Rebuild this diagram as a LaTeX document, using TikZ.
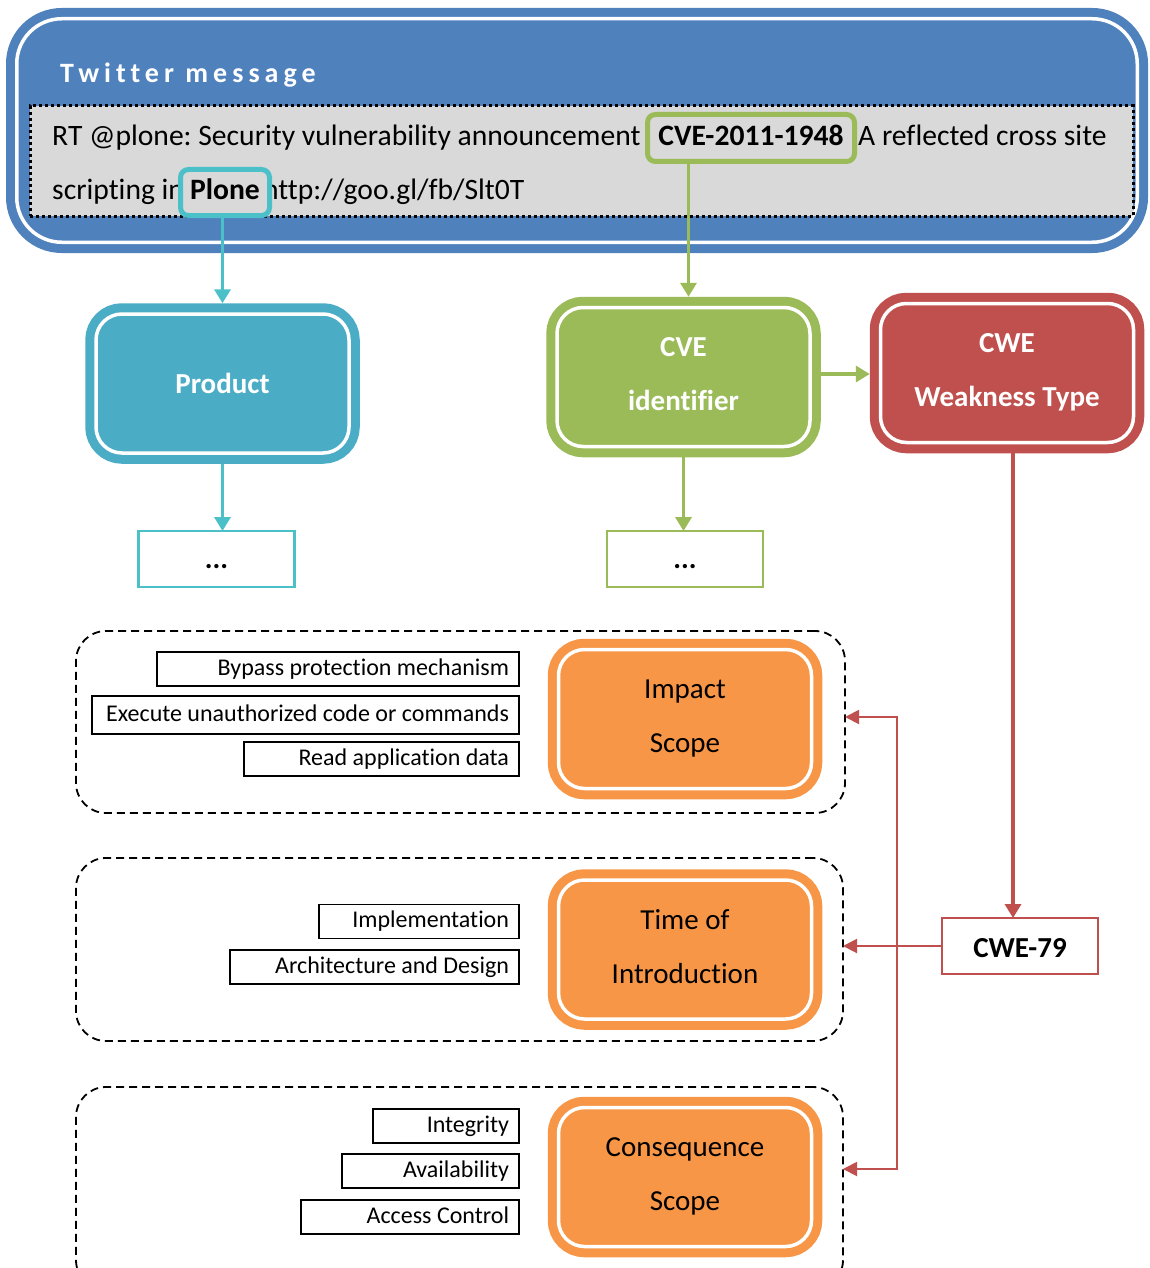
\documentclass[tikz,border=0pt]{standalone}
\usepackage{fontspec}
\setmainfont{Carlito}[Ligatures=CommonOff]
\usetikzlibrary{arrows.meta}
\definecolor{twblue}{HTML}{4F81BD}
\definecolor{msggray}{HTML}{D9D9D9}
\definecolor{tealbox}{HTML}{4BACC6}
\definecolor{tealline}{HTML}{4BC0C8}
\definecolor{cvegreen}{HTML}{9BBB59}
\definecolor{cwered}{HTML}{C0504D}
\definecolor{orng}{HTML}{F79646}
\newcommand\boxfont{\fontsize{29}{54}\selectfont}
\newcommand\lblfont{\fontsize{24}{29}\selectfont}
\newcommand\twfont{\fontsize{29.6}{36}\selectfont}
\newcommand\mystrut{\rule[-9pt]{0pt}{31pt}}
\newcommand\rtext[2]{\makebox[#1][r]{#2}}
\frenchspacing
\begin{document}
\begin{tikzpicture}[x=1pt,y=-1pt,
  dbl/.style={draw=#1, fill=#1, double=white, double distance=3.5pt, line width=9pt,
    rounded corners=26pt, inner sep=0pt, outer sep=10.75pt, minimum width=253pt,
    minimum height=139pt, align=center, text=white, font=\bfseries\boxfont},
  hl/.style={draw=#1, line width=5pt, fill=msggray, rounded corners=8pt, inner sep=0pt,
    outer sep=2.5pt, font=\bfseries\twfont},
  txt/.style={anchor=base west, inner sep=0pt, font=\twfont},
  dotbox/.style={draw=#1, line width=2.5pt, fill=white, minimum width=156pt, minimum height=56pt,
    inner sep=0pt, outer sep=0pt, font=\bfseries\boxfont, text height=20pt, text depth=2pt},
  lbl/.style={draw=black, line width=1.6pt, font=\lblfont, inner xsep=10pt, inner ysep=0pt,
    anchor=east, text height=17pt, text depth=5pt, outer sep=0pt, minimum height=34pt},
  grp/.style={draw=black, line width=1.8pt, dash pattern=on 8pt off 5pt, rounded corners=30pt,
    inner sep=0pt, outer sep=0pt},
  tealconn/.style={draw=tealline, line width=3.5pt, -{Triangle[length=14pt,width=16pt]}},
  greenconn/.style={draw=cvegreen, line width=3.5pt, -{Triangle[length=14pt,width=16pt]}},
  redconn/.style={draw=cwered, line width=3.5pt, -{Triangle[length=14pt,width=16pt]}},
  redthin/.style={draw=cwered, line width=2pt},
]
\useasboundingbox (0,0) rectangle (1150,1268);
\clip (0,0) rectangle (1150,1268);

% Twitter message panel
\node[draw=twblue, fill=twblue, double=white, double distance=3.5pt, line width=9pt,
  rounded corners=45pt, minimum width=1120.5pt, minimum height=223.5pt, inner sep=0pt]
  (tw) at (577,130.5) {};
\node[anchor=base west, inner sep=0pt, text=white,
  font=\bfseries\fontsize{28}{34}\selectfont\addfontfeature{LetterSpace=18}]
  (title) at (60,83) {Twitter message};
\node[draw=black, line width=3pt, dash pattern=on 3pt off 3pt, fill=msggray,
  minimum width=1103pt, minimum height=110pt, inner sep=0pt] (msg) at (581.5,161) {};
\node[txt] (l1) at (52,146) {RT @plone: Security vulnerability announcement};
\node[txt] (l2) at (858,146) {A reflected cross site};
\node[txt] (l3) at (52,200) {scripting in};
\node[txt] (l4) at (263,200) {http://goo.gl/fb/Slt0T};
\node[hl=cvegreen, minimum width=207pt, minimum height=47pt, text height=21pt, text depth=5pt]
  (cvehl) at (751,138) {CVE-2011-1948};
\node[hl=tealline, minimum width=89pt, minimum height=46pt, text height=21pt, text depth=6pt]
  (plone) at (225,192.5) {Plone};

% main boxes
\node[dbl=tealbox] (product) at (222.5,383.5) {Product};
\node[dbl=cvegreen] (cve) at (683.5,377) {\mystrut CVE\\\mystrut identifier};
\node[dbl=cwered] (cwe) at (1007,373) {\mystrut CWE\\\mystrut Weakness Type};

\node[dotbox=tealline] (pdots) at (216.5,559) {...};
\node[dotbox=cvegreen] (gdots) at (685,559) {...};

\node[draw=cwered, line width=2.5pt, fill=white, minimum width=156pt, minimum height=56pt,
  inner sep=0pt, outer sep=0pt, font=\bfseries\boxfont, text height=25pt, text depth=3pt]
  (cwe79) at (1020,946) {CWE-79};

% groups
\node[grp, minimum width=769pt, minimum height=182pt] (g1) at (460.5,722) {};
\node[grp, minimum width=767pt, minimum height=183pt] (g2) at (459.5,949.5) {};
\node[grp, minimum width=767pt, minimum height=203pt] (g3) at (459.5,1188.5) {};

\node[dbl=orng, text=black, font=\boxfont] (impact) at (685,719) {\mystrut Impact\\\mystrut Scope};
\node[dbl=orng, text=black, font=\boxfont] (time) at (685,949.5) {\mystrut Time of\\\mystrut Introduction};
\node[dbl=orng, text=black, font=\boxfont] (cons) at (685,1177) {\mystrut Consequence\\\mystrut Scope};

\node[lbl] (bypass) at (519,669) {\rtext{342pt}{Bypass protection mechanism}};
\node[lbl, minimum height=38pt] (exec) at (519,715) {\rtext{407pt}{Execute unauthorized code or commands}};
\node[lbl] (read) at (519,759) {\rtext{255pt}{Read application data}};
\node[lbl] (impl) at (519,921.5) {\rtext{180pt}{Implementation}};
\node[lbl] (arch) at (519,967) {\rtext{269pt}{Architecture and Design}};
\node[lbl] (integ) at (519,1126) {\rtext{126pt}{Integrity}};
\node[lbl] (avail) at (519,1171) {\rtext{157pt}{Availability}};
\node[lbl] (access) at (519,1217) {\rtext{198pt}{Access Control}};

% connectors
\draw[tealconn] (product.north |- plone.south) -- (product.north);
\draw[tealconn] (product.south) -- (product.south |- pdots.north);

\coordinate (cvetop) at ([xshift=5pt]cve.north);
\draw[greenconn] (cvetop |- cvehl.south) -- (cvetop);
\coordinate (cveeast) at ([yshift=3pt]cve.east);
\draw[greenconn] (cveeast) -- (cveeast -| cwe.west);
\draw[greenconn] (cve.south) -- (cve.south |- gdots.north);

\coordinate (cwebot) at ([xshift=6pt]cwe.south);
\draw[redconn] (cwebot) -- (cwebot |- cwe79.north);
\draw[redthin, -{Triangle[length=14pt,width=14pt]}] (cwe79.west) -- (cwe79.west -| g2.east);
\coordinate (ja) at (897,717);
\coordinate (jb) at (897,1169);
\draw[redthin, {Triangle[length=14pt,width=14pt]}-{Triangle[length=14pt,width=14pt]}]
  (ja -| g1.east) -- (ja) -- (jb) -- (jb -| g3.east);
\end{tikzpicture}
\end{document}
